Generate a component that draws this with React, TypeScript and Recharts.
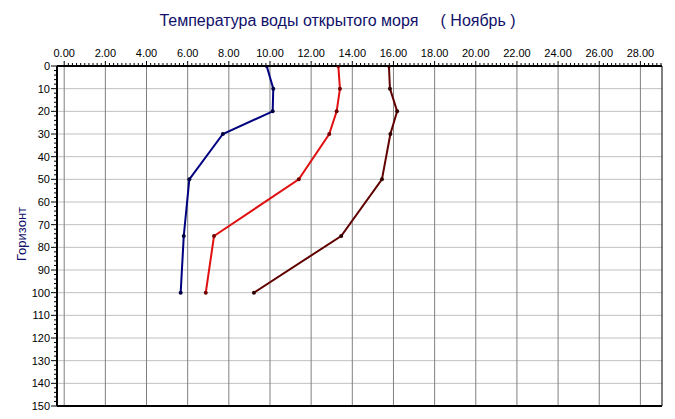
import React from 'react';
import { LineChart, Line, XAxis, YAxis, ReferenceLine } from 'recharts';

const depths = [0, 10, 20, 30, 50, 75, 100];
const seriesNavy = [9.84, 10.16, 10.13, 7.71, 6.08, 5.81, 5.66];
const seriesRed = [13.32, 13.4, 13.24, 12.88, 11.4, 7.28, 6.88];
const seriesMaroon = [15.78, 15.83, 16.18, 15.85, 15.44, 13.46, 9.22];

const xMajorTicks = [0, 2, 4, 6, 8, 10, 12, 14, 16, 18, 20, 22, 24, 26, 28];
const yMajorTicks = [0, 10, 20, 30, 40, 50, 60, 70, 80, 90, 100, 110, 120, 130, 140, 150];

const X_MIN = -0.35;
const X_MAX = 29.05;

const xAllTicks: number[] = [];
for (let i = 0; i <= 145; i++) xAllTicks.push(Math.round(i * 2) / 10);
const yAllTicks: number[] = [];
for (let i = 0; i <= 75; i++) yAllTicks.push(i * 2);

const rows = depths.map((d, i) => ({
  depth: d,
  navy: seriesNavy[i],
  red: seriesRed[i],
  maroon: seriesMaroon[i],
}));

const FONT = '"Liberation Sans", Arial, sans-serif';

const isMajorX = (v: number) => xMajorTicks.some((t) => Math.abs(t - v) < 1e-6);
const isMajorY = (v: number) => yMajorTicks.some((t) => Math.abs(t - v) < 1e-6);

const XTick = (props: any) => {
  const { x, y, payload } = props;
  const v = payload.value as number;
  const major = isMajorX(v);
  return (
    <g>
      <line x1={x} x2={x} y1={y} y2={y - (major ? 5 : 3)} stroke="#000" strokeWidth={1} />
      {major && (
        <text x={x} y={y - 9} textAnchor="middle" fontFamily={FONT} fontSize={11} fill="#000">
          {v.toFixed(2)}
        </text>
      )}
    </g>
  );
};

const YTick = (props: any) => {
  const { x, y, payload } = props;
  const v = payload.value as number;
  const major = isMajorY(v);
  return (
    <g>
      <line x1={x} x2={x - (major ? 6 : 3)} y1={y} y2={y} stroke="#000" strokeWidth={1} />
      {major && (
        <text x={x - 7} y={y + 4} textAnchor="end" fontFamily={FONT} fontSize={11} fill="#000">
          {String(v)}
        </text>
      )}
    </g>
  );
};

export default function App() {
  return (
    <div style={{ position: 'absolute', left: 0, top: 0, width: 675, height: 419, background: '#fff' }}>
      <div
        style={{
          position: 'absolute',
          left: 0,
          top: 11,
          width: 675,
          textAlign: 'center',
          fontFamily: FONT,
          fontSize: 16,
          lineHeight: '20px',
          color: '#10106a',
          whiteSpace: 'pre',
        }}
      >
        {'Температура воды открытого моря     ( Ноябрь )'}
      </div>
      <div
        style={{
          position: 'absolute',
          left: 22 - 40,
          top: 234 - 8,
          width: 80,
          height: 16,
          lineHeight: '16px',
          textAlign: 'center',
          transform: 'rotate(-90deg)',
          fontFamily: FONT,
          fontSize: 13,
          color: '#10106a',
        }}
      >
        Горизонт
      </div>
      <div style={{ position: 'absolute', left: 0, top: 0 }}>
        <LineChart
          width={675}
          height={419}
          data={rows}
          layout="vertical"
          margin={{ top: 36, right: 13, bottom: 13, left: 30 }}
        >
          <XAxis
            type="number"
            orientation="top"
            domain={[X_MIN, X_MAX]}
            allowDataOverflow
            ticks={xAllTicks}
            interval={0}
            height={30}
            tickSize={0}
            tickMargin={0}
            tickLine={false}
            tick={<XTick />}
            axisLine={false}
          />
          <YAxis
            type="number"
            dataKey="depth"
            domain={[0, 150]}
            allowDataOverflow
            ticks={yAllTicks}
            interval={0}
            width={27}
            tickSize={0}
            tickMargin={0}
            tickLine={false}
            tick={<YTick />}
            axisLine={false}
          />
          {yMajorTicks.map((t) => (
            <ReferenceLine key={'h' + t} y={t} stroke="#c0c0c0" strokeWidth={1} />
          ))}
          {xMajorTicks.map((t) => (
            <ReferenceLine key={'v' + t} x={t} stroke="#808080" strokeWidth={1} />
          ))}
          <ReferenceLine y={0} stroke="#000" strokeWidth={2} />
          <ReferenceLine y={150} stroke="#000" strokeWidth={2} />
          <ReferenceLine x={X_MIN} stroke="#000" strokeWidth={2} />
          <ReferenceLine x={X_MAX} stroke="#000" strokeWidth={1} />
          <Line
            dataKey="navy"
            stroke="#000080"
            strokeWidth={2}
            dot={{ r: 2, fill: '#000040', stroke: 'none' }}
            isAnimationActive={false}
          />
          <Line
            dataKey="red"
            stroke="#e01010"
            strokeWidth={2}
            dot={{ r: 2, fill: '#700000', stroke: 'none' }}
            isAnimationActive={false}
          />
          <Line
            dataKey="maroon"
            stroke="#600000"
            strokeWidth={2}
            dot={{ r: 2, fill: '#300000', stroke: 'none' }}
            isAnimationActive={false}
          />
        </LineChart>
      </div>
    </div>
  );
}
